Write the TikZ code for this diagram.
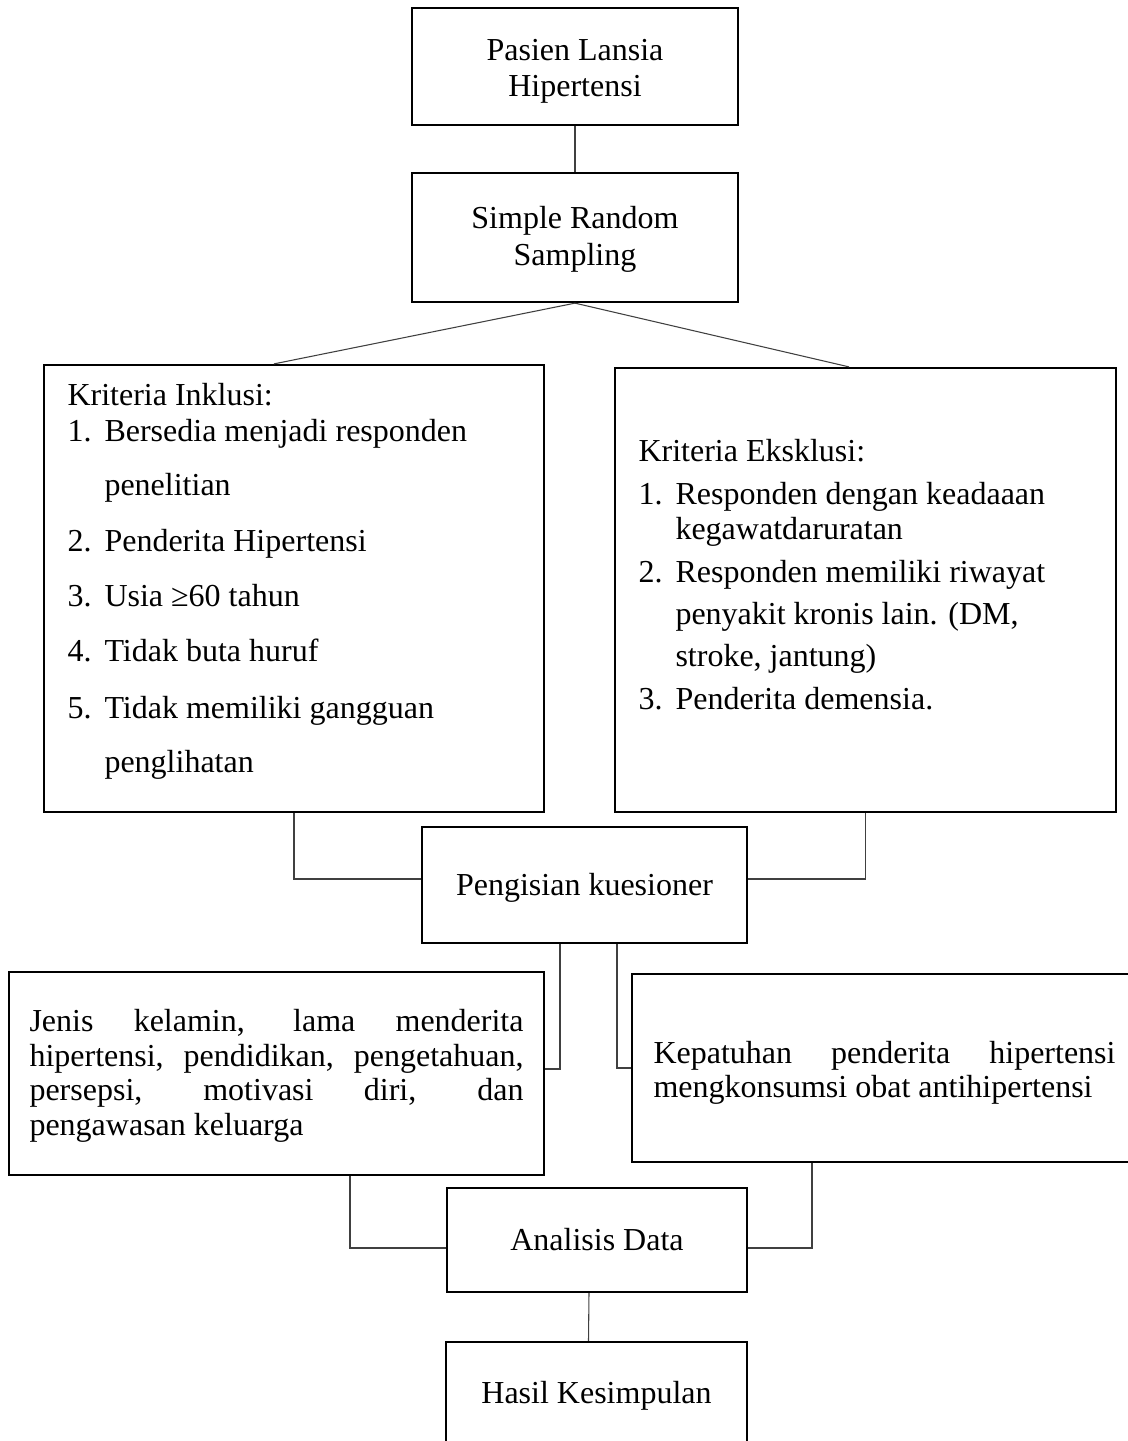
\documentclass[tikz,border=0pt]{standalone}
\usepackage{fontspec}
\setmainfont{Liberation Serif}
\begin{document}
\begin{tikzpicture}[x=0.375pt,y=-0.375pt,
  box/.style={draw=black, line width=0.85pt, inner sep=0pt},
  ln/.style={anchor=west, inner sep=0pt, text height=8.5pt, text depth=2.5pt, font=\fontsize{12}{13.5}\selectfont},
  ct/.style={ln, anchor=center},
  conn/.style={draw=black!75, line width=0.4pt}]
\useasboundingbox (0,0) rectangle (1128,1441);
\clip (0,0) rectangle (1128,1441);
% boxes
\node[box, minimum width=122.25pt, minimum height=43.875pt] (p1) at (575,66.5) {};
\node[box, minimum width=122.25pt, minimum height=48.375pt] (p2) at (575,237.5) {};
\node[box, minimum width=187.5pt, minimum height=167.625pt] (inkl) at (294,588.5) {};
\node[box, minimum width=187.875pt, minimum height=166.5pt] (eksk) at (865.5,590) {};
\node[box, minimum width=121.875pt, minimum height=43.5pt] (peng) at (584.5,885) {};
\node[box, minimum width=200.625pt, minimum height=76.125pt] (jenis) at (276.5,1073.5) {};
\node[box, minimum width=190.5pt, minimum height=70.5pt] (kepat) at (886,1068) {};
\node[box, minimum width=112.5pt, minimum height=39pt] (anal) at (597,1240) {};
\node[box, minimum width=112.875pt, minimum height=39.75pt] (hasil) at (596.5,1395) {};
% centred labels
\node[ct] (p1a) at (575,52) {Pasien Lansia};
\node[ct] (p1b) at (575,88) {Hipertensi};
\node[ct] (p2a) at (575,220) {Simple Random};
\node[ct] (p2b) at (575,257) {Sampling};
\node[ct] (pengt) at (584.5,887) {Pengisian kuesioner};
\node[ct] (analt) at (597,1242) {Analisis Data};
\node[ct] (hasilt) at (596.5,1395) {Hasil Kesimpulan};
% inclusion text
\node[ln] (i0) at (67,397) {Kriteria Inklusi:};
\node[ln] (i1) at (67,433) {\makebox[13.875pt][l]{1.}Bersedia menjadi responden};
\node[ln] (i2) at (104,487) {penelitian};
\node[ln] (i3) at (67,543) {\makebox[13.875pt][l]{2.}Penderita Hipertensi};
\node[ln] (i4) at (67,598) {\makebox[13.875pt][l]{3.}Usia ≥60 tahun};
\node[ln] (i5) at (67,653) {\makebox[13.875pt][l]{4.}Tidak buta huruf};
\node[ln] (i6) at (67,710) {\makebox[13.875pt][l]{5.}Tidak memiliki gangguan};
\node[ln] (i7) at (104,764) {penglihatan};
% exclusion text
\node[ln] (e0) at (638,453) {Kriteria Eksklusi:};
\node[ln] (e1) at (638,496) {\makebox[13.875pt][l]{1.}Responden dengan keadaaan};
\node[ln] (e2) at (675,531) {kegawatdaruratan};
\node[ln] (e3) at (638,574) {\makebox[13.875pt][l]{2.}Responden memiliki riwayat};
\node[ln] (e4) at (675,616) {penyakit kronis lain. (DM,};
\node[ln] (e5) at (675,658) {stroke, jantung)};
\node[ln] (e6) at (638,701) {\makebox[13.875pt][l]{3.}Penderita demensia.};
% variables text
\node[ln] (j1) at (29,1023) {\makebox[185.25pt][s]{Jenis kelamin, lama menderita}};
\node[ln] (j2) at (29,1058) {\makebox[185.25pt][s]{hipertensi, pendidikan, pengetahuan,}};
\node[ln] (j3) at (29,1092) {\makebox[185.25pt][s]{persepsi, motivasi diri, dan}};
\node[ln] (j4) at (29,1127) {pengawasan keluarga};
\node[ln] (k1) at (653,1055) {\makebox[173.25pt][s]{Kepatuhan penderita hipertensi}};
\node[ln] (k2) at (653,1089) {mengkonsumsi obat antihipertensi};
% connectors
\draw[conn] (p1) -- (p2);
\draw[conn] (p2.south) -- ([xshift=-7.5pt]inkl.north);
\draw[conn] (p2.south) -- ([xshift=-6.19pt]eksk.north);
\draw[conn] (inkl.south) |- ([yshift=2.25pt]peng.west);
\draw[conn] (eksk.south) |- ([yshift=2.25pt]peng.east);
\draw[conn] ([xshift=-9.19pt]peng.south) |- ([yshift=1.69pt]jenis.east);
\draw[conn] ([xshift=12.19pt]peng.south) |- (kepat.west);
\draw[conn] ([xshift=27.56pt]jenis.south) |- ([yshift=-3pt]anal.west);
\draw[conn] ([xshift=-27.75pt]kepat.south) |- ([yshift=-3pt]anal.east);
\draw[conn] ([xshift=-3pt]anal.south) -- ([xshift=-3pt]hasil.north);
\end{tikzpicture}
\end{document}
